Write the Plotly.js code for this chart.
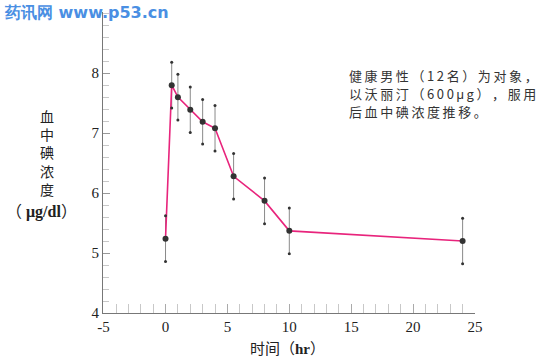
<!DOCTYPE html>
<html><head><meta charset="utf-8">
<script src="https://cdn.plot.ly/plotly-3.0.1.min.js"></script>
<style>html,body{margin:0;padding:0;background:#fff}#chart{width:553px;height:360px}</style>
</head><body><div id="chart"></div>
<script>
// Data
const timeHr   = [0, 0.5, 1, 2, 3, 4, 5.5, 8, 10, 24];
const meanConc = [5.24, 7.80, 7.60, 7.39, 7.19, 7.08, 6.28, 5.87, 5.37, 5.20];
const sdConc   = [0.38, 0.38, 0.38, 0.38, 0.37, 0.38, 0.38, 0.38, 0.38, 0.38];
const xTickVals = [-5, 0, 5, 10, 15, 20, 25];
const xTickText = ['-5', '0', '5', '10', '15', '20', '25'];
const yTickVals = [4, 5, 6, 7, 8];
const yTickText = ['4', '5', '6', '7', '8'];
const noteLines = ['健康男性（12名）为对象，', '以沃丽汀（600μg），服用', '后血中碘浓度推移。'];

const upper = meanConc.map((v, i) => v + sdConc[i]);
const lower = meanConc.map((v, i) => v - sdConc[i]);

const traces = [
  {
    x: timeHr, y: meanConc, type: 'scatter', mode: 'lines',
    error_y: {type: 'data', array: sdConc, visible: true, color: '#8a8a8a', thickness: 1, width: 0},
    line: {color: '#e8247c', width: 1.6}, hoverinfo: 'skip'
  },
  {
    x: timeHr.concat(timeHr), y: upper.concat(lower), type: 'scatter', mode: 'markers',
    marker: {color: '#333', size: 3}, hoverinfo: 'skip'
  },
  {
    x: timeHr, y: meanConc, type: 'scatter', mode: 'markers',
    marker: {color: '#333', size: 6}
  }
];

const serif = 'Liberation Serif, DejaVu Serif, serif';
const cjk = 'Noto Sans CJK SC, sans-serif';

function spaced(t) {
  return Array.from(t).map(c => c === 'μ'
    ? '<span style="font-family:Liberation Sans">μ</span>' : c).join('\u2009');
}

const notes = noteLines.map((t, i) => ({
  xref: 'paper', yref: 'paper', x: 0.656, y: (313 - (76 + i * 17.5)) / 301,
  xanchor: 'left', yanchor: 'middle', text: spaced(t), showarrow: false, align: 'left',
  font: {family: cjk, size: 13, color: '#333'}
}));

const layout = {
  width: 553, height: 360,
  margin: {l: 103, r: 78, t: 12, b: 47},
  paper_bgcolor: '#fff', plot_bgcolor: '#fff',
  showlegend: false,
  xaxis: {
    range: [-5.05, 25], showgrid: false, zeroline: false,
    showline: true, linecolor: '#777', linewidth: 1,
    tickvals: xTickVals, ticktext: xTickText,
    ticks: 'inside', ticklen: 9, tickcolor: '#aaa',
    minor: {dtick: 1, tick0: 0, ticks: 'inside', ticklen: 9, tickcolor: '#c8c8c8'},
    tickfont: {family: serif, size: 15, color: '#222'}
  },
  yaxis: {
    range: [4, 9.02], showgrid: false, zeroline: false,
    showline: true, linecolor: '#777', linewidth: 1,
    tickvals: yTickVals, ticktext: yTickText,
    ticks: 'inside', ticklen: 7, tickcolor: '#999',
    minor: {dtick: 0.2, tick0: 4, ticks: 'inside', ticklen: 6, tickcolor: '#c8c8c8'},
    tickfont: {family: serif, size: 15, color: '#222'}
  },
  annotations: [
    {xref: 'paper', yref: 'paper', x: -0.151, y: 0.533, xanchor: 'center', yanchor: 'middle',
     text: '血<br>中<br>碘<br>浓<br>度', showarrow: false, align: 'center',
     font: {family: cjk, size: 14, color: '#222'}},
    {xref: 'paper', yref: 'paper', x: -0.164, y: 0.342, xanchor: 'center', yanchor: 'middle',
     text: '<span style="font-family:Noto Sans CJK SC">（</span> <b>μg/dl</b><span style="font-family:Noto Sans CJK SC">）</span>', showarrow: false,
     font: {family: serif, size: 16, color: '#222'}},
    {xref: 'paper', yref: 'paper', x: 0.496, y: -0.116, xanchor: 'center', yanchor: 'middle',
     text: '时间（<span style="font-family:Liberation Serif"><b>hr</b></span>）', showarrow: false,
     font: {family: cjk, size: 15, color: '#222'}},
    {xref: 'paper', yref: 'paper', x: -0.272, y: 1.0, xanchor: 'left', yanchor: 'middle',
     text: '<b>药讯网 www.p53.cn</b>', showarrow: false,
     font: {family: 'DejaVu Sans, sans-serif', size: 16, color: '#4a8fe3'}}
  ].concat(notes)
};

Plotly.newPlot('chart', traces, layout, {staticPlot: true, displayModeBar: false});
</script></body></html>
